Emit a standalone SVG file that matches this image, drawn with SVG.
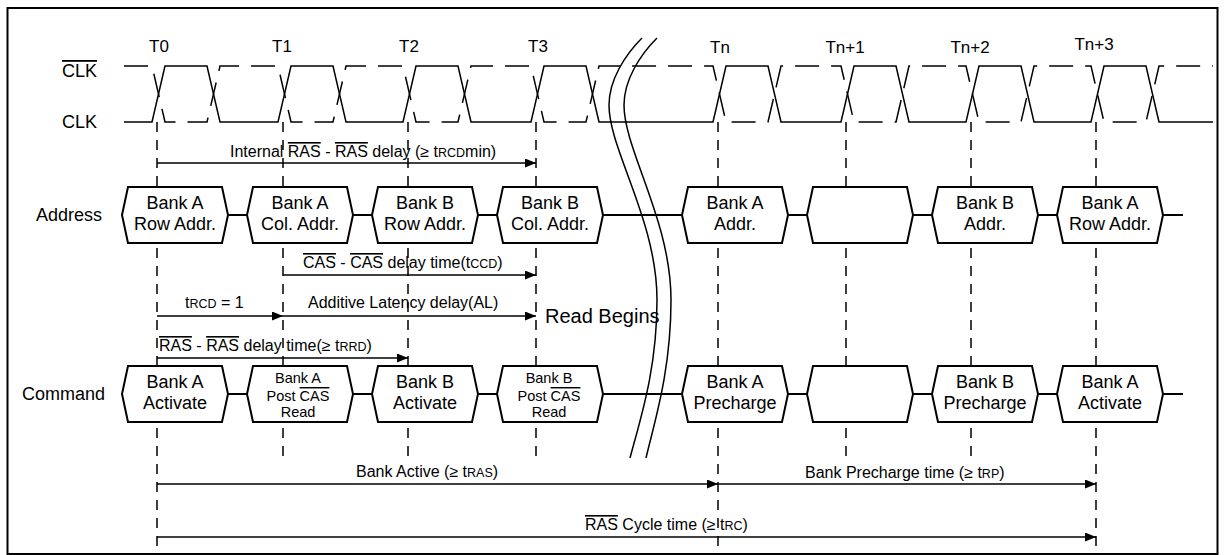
<svg xmlns="http://www.w3.org/2000/svg" width="1225" height="555" viewBox="0 0 1225 555">
<defs>
<style>
text{font-family:"Liberation Sans",Arial,sans-serif;fill:#000}
.lbl{font-size:18px}
.tl{font-size:17px;text-anchor:middle}
.ann{font-size:16px}
.bx{font-size:18px;text-anchor:middle}
.bx3{font-size:14.5px;text-anchor:middle}
.ov{text-decoration:overline}
.sm{font-size:12.5px}
.box{fill:#fff;stroke:#000;stroke-width:2}
.wire{fill:none;stroke:#000;stroke-width:2}
.clk{fill:none;stroke:#000;stroke-width:1.5}
.clkn{fill:none;stroke:#000;stroke-width:1.5;stroke-dasharray:24 12}
.tick{fill:none;stroke:#000;stroke-width:1.5;stroke-dasharray:10 8}
.arr{fill:none;stroke:#000;stroke-width:1.6;marker-end:url(#ah)}
.brk{fill:none;stroke:#000;stroke-width:1.5}
</style>
<marker id="ah" markerWidth="11" markerHeight="9" refX="11" refY="4.5" orient="auto" markerUnits="userSpaceOnUse">
<path d="M0,0 L11,4.5 L0,9 z" fill="#000"/>
</marker>
</defs>
<rect x="0" y="0" width="1225" height="555" fill="#fff"/>
<rect x="7.5" y="8" width="1210" height="546" fill="none" stroke="#000" stroke-width="2"/>

<g id="time-labels">
<text class="tl" x="159" y="52">T0</text>
<text class="tl" x="282" y="52">T1</text>
<text class="tl" x="409" y="52">T2</text>
<text class="tl" x="538" y="52">T3</text>
<text class="tl" x="720" y="53">Tn</text>
<text class="tl" x="845" y="53">Tn+1</text>
<text class="tl" x="970" y="53">Tn+2</text>
<text class="tl" x="1094" y="50">Tn+3</text>
</g>

<g id="signal-labels">
<text class="lbl" x="62" y="77"><tspan class="ov">CLK</tspan></text>
<text class="lbl" x="62" y="128">CLK</text>
<text class="lbl" x="36" y="221">Address</text>
<text class="lbl" x="22" y="400">Command</text>
</g>

<g id="time-lines">
<line class="tick" x1="157" y1="122" x2="157" y2="555"/>
<line class="tick" x1="283" y1="122" x2="283" y2="458"/>
<line class="tick" x1="408" y1="122" x2="408" y2="458"/>
<line class="tick" x1="536" y1="122" x2="536" y2="458"/>
<line class="tick" x1="718" y1="122" x2="718" y2="555"/>
<line class="tick" x1="846" y1="122" x2="846" y2="458"/>
<line class="tick" x1="971" y1="122" x2="971" y2="458"/>
<line class="tick" x1="1096" y1="122" x2="1096" y2="555"/>
</g>

<g id="clock">
<path class="clk" d="M124,122 L152,122 L165,66 L207,66 L220,122 L278,122 L291,66 L333,66 L346,122 L403,122 L416,66 L458,66 L471,122 L531,122 L544,66 L586,66 L599,122 L713,122 L726,66 L768,66 L781,122 L841,122 L854,66 L896,66 L909,122 L966,122 L979,66 L1021,66 L1034,122 L1091,122 L1104,66 L1146,66 L1159,122 L1213,122"/>
<path class="clkn" d="M124,66 L152,66 L165,122 L207,122 L220,66 L278,66 L291,122 L333,122 L346,66 L403,66 L416,122 L458,122 L471,66 L531,66 L544,122 L586,122 L599,66 L713,66 L726,122 L768,122 L781,66 L841,66 L854,122 L896,122 L909,66 L966,66 L979,122 L1021,122 L1034,66 L1091,66 L1104,122 L1146,122 L1159,66 L1213,66"/>
</g>

<g id="connectors">
<path class="wire" d="M228,215 H247 M353,215 H372 M478,215 H497 M603,215 H682 M788,215 H807 M913,215 H932 M1038,215 H1057 M1163,215 H1183"/>
<path class="wire" d="M228,394 H247 M353,394 H372 M478,394 H497 M603,394 H682 M788,394 H807 M913,394 H932 M1038,394 H1057 M1163,394 H1183"/>
<line class="arr" x1="157" y1="163" x2="536" y2="163"/>
<line class="arr" x1="283" y1="275" x2="536" y2="275"/>
<line class="arr" x1="157" y1="316" x2="283" y2="316"/>
<line class="arr" x1="283" y1="316" x2="536" y2="316"/>
<line class="arr" x1="157" y1="358" x2="408" y2="358"/>
<line class="arr" x1="157" y1="484" x2="718" y2="484"/>
<line class="arr" x1="718" y1="484" x2="1096" y2="484"/>
<line class="arr" x1="157" y1="537" x2="1096" y2="537"/>
</g>

<g id="annotations">
<text class="ann" x="230" y="157">Internal <tspan class="ov">RAS</tspan> - <tspan class="ov">RAS</tspan> delay (≥ t<tspan class="sm">RCD</tspan>min)</text>
<text class="ann" x="303" y="268"><tspan class="ov">CAS</tspan> - <tspan class="ov">CAS</tspan> delay time(t<tspan class="sm">CCD</tspan>)</text>
<text class="ann" x="185" y="308">t<tspan class="sm">RCD</tspan> = 1</text>
<text class="ann" x="308" y="308">Additive Latency delay(AL)</text>
<text x="545" y="323" style="font-size:20px">Read Begins</text>
<text class="ann" x="159" y="351"><tspan class="ov">RAS</tspan> - <tspan class="ov">RAS</tspan> delay time(≥ t<tspan class="sm">RRD</tspan>)</text>
<text class="ann" x="356" y="477">Bank Active (≥ t<tspan class="sm">RAS</tspan>)</text>
<text class="ann" x="805" y="478">Bank Precharge time (≥ t<tspan class="sm">RP</tspan>)</text>
<text class="ann" x="585" y="530"><tspan class="ov">RAS</tspan> Cycle time (≥ t<tspan class="sm">RC</tspan>)</text>
</g>

<g id="break">
<path class="brk" d="M642,38 C625,55 609,80 609,105 C609,150 657,220 657,300 C657,370 640,420 630,458"/>
<path class="brk" d="M657,38 C640,55 624,80 624,105 C624,150 671,220 671,300 C671,370 655,420 646,458"/>
</g>

<g id="addr-1"><path class="box" d="M122,215 L128,187 L222,187 L228,215 L222,243 L128,243 Z"/><text class="bx" x="175" y="209">Bank A</text><text class="bx" x="175" y="230">Row Addr.</text></g>
<g id="addr-2"><path class="box" d="M247,215 L253,187 L347,187 L353,215 L347,243 L253,243 Z"/><text class="bx" x="300" y="209">Bank A</text><text class="bx" x="300" y="230">Col. Addr.</text></g>
<g id="addr-3"><path class="box" d="M372,215 L378,187 L472,187 L478,215 L472,243 L378,243 Z"/><text class="bx" x="425" y="209">Bank B</text><text class="bx" x="425" y="230">Row Addr.</text></g>
<g id="addr-4"><path class="box" d="M497,215 L503,187 L597,187 L603,215 L597,243 L503,243 Z"/><text class="bx" x="550" y="209">Bank B</text><text class="bx" x="550" y="230">Col. Addr.</text></g>
<g id="addr-5"><path class="box" d="M682,215 L688,187 L782,187 L788,215 L782,243 L688,243 Z"/><text class="bx" x="735" y="209">Bank A</text><text class="bx" x="735" y="230">Addr.</text></g>
<g id="addr-6"><path class="box" d="M807,215 L813,187 L907,187 L913,215 L907,243 L813,243 Z"/></g>
<g id="addr-7"><path class="box" d="M932,215 L938,187 L1032,187 L1038,215 L1032,243 L938,243 Z"/><text class="bx" x="985" y="209">Bank B</text><text class="bx" x="985" y="230">Addr.</text></g>
<g id="addr-8"><path class="box" d="M1057,215 L1063,187 L1157,187 L1163,215 L1157,243 L1063,243 Z"/><text class="bx" x="1110" y="209">Bank A</text><text class="bx" x="1110" y="230">Row Addr.</text></g>

<g id="cmd-1"><path class="box" d="M122,394 L128,366 L222,366 L228,394 L222,422 L128,422 Z"/><text class="bx" x="175" y="388">Bank A</text><text class="bx" x="175" y="409">Activate</text></g>
<g id="cmd-2"><path class="box" d="M247,394 L253,366 L347,366 L353,394 L347,422 L253,422 Z"/><text class="bx3" x="298" y="383">Bank A</text><text class="bx3" x="298" y="401">Post <tspan class="ov">CAS</tspan></text><text class="bx3" x="298" y="417">Read</text></g>
<g id="cmd-3"><path class="box" d="M372,394 L378,366 L472,366 L478,394 L472,422 L378,422 Z"/><text class="bx" x="425" y="388">Bank B</text><text class="bx" x="425" y="409">Activate</text></g>
<g id="cmd-4"><path class="box" d="M497,394 L503,366 L597,366 L603,394 L597,422 L503,422 Z"/><text class="bx3" x="549" y="383">Bank B</text><text class="bx3" x="549" y="401">Post <tspan class="ov">CAS</tspan></text><text class="bx3" x="549" y="417">Read</text></g>
<g id="cmd-5"><path class="box" d="M682,394 L688,366 L782,366 L788,394 L782,422 L688,422 Z"/><text class="bx" x="735" y="388">Bank A</text><text class="bx" x="735" y="409">Precharge</text></g>
<g id="cmd-6"><path class="box" d="M807,394 L813,366 L907,366 L913,394 L907,422 L813,422 Z"/></g>
<g id="cmd-7"><path class="box" d="M932,394 L938,366 L1032,366 L1038,394 L1032,422 L938,422 Z"/><text class="bx" x="985" y="388">Bank B</text><text class="bx" x="985" y="409">Precharge</text></g>
<g id="cmd-8"><path class="box" d="M1057,394 L1063,366 L1157,366 L1163,394 L1157,422 L1063,422 Z"/><text class="bx" x="1110" y="388">Bank A</text><text class="bx" x="1110" y="409">Activate</text></g>
</svg>
